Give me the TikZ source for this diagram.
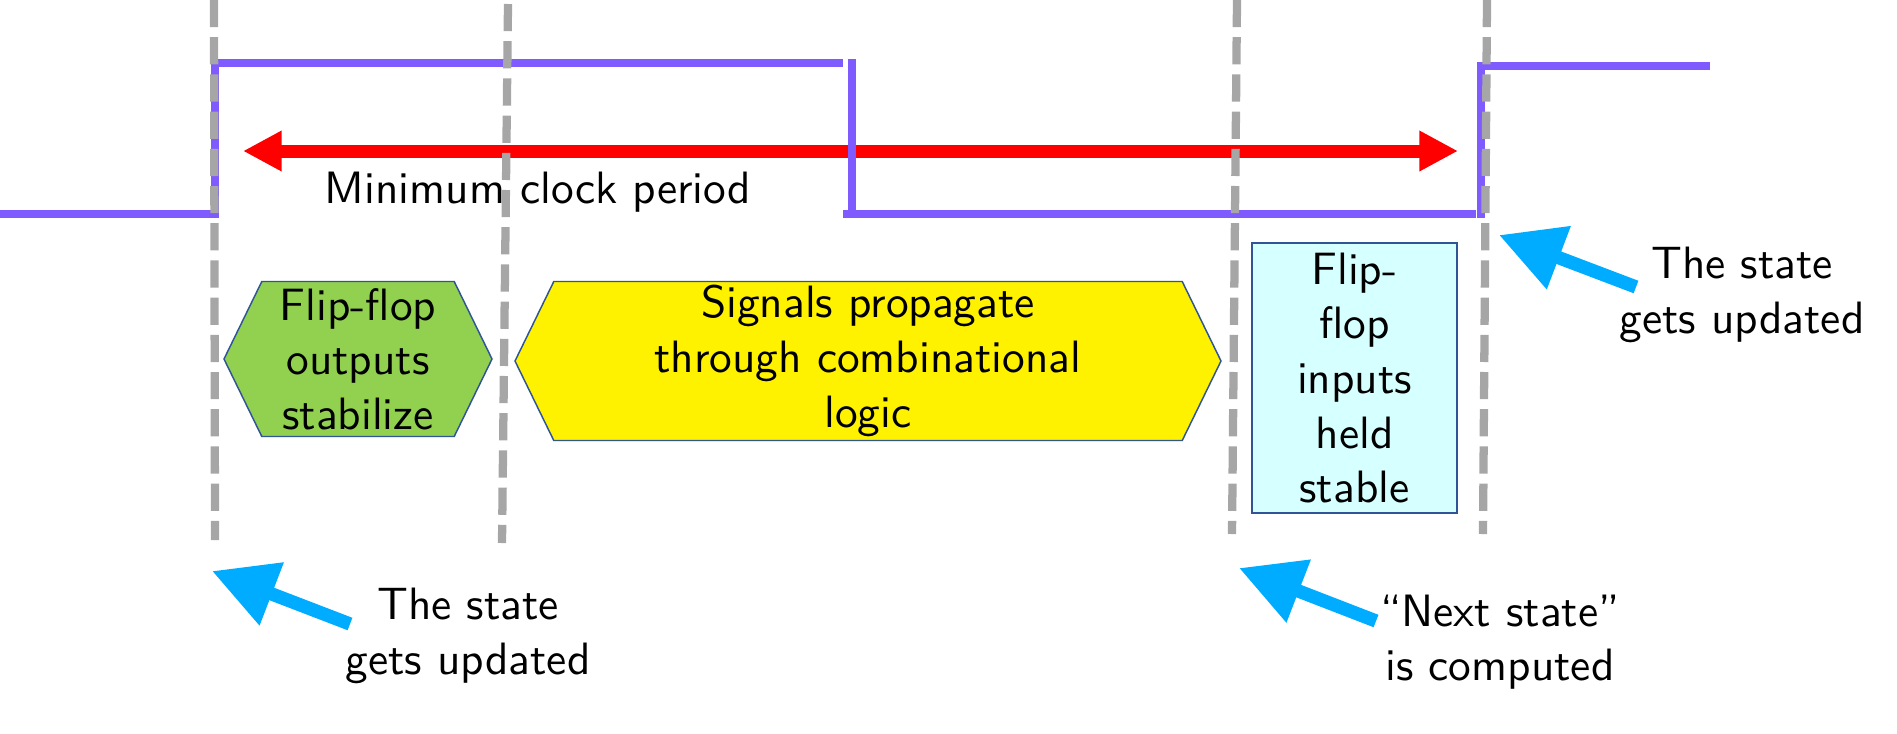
\documentclass[tikz,border=0pt]{standalone}
\usepackage{fontspec}
\usetikzlibrary{arrows.meta,shapes.symbols}

\newfontfamily\tensans{lmsans10-regular.otf}[Ligatures=TeX]

\definecolor{clk}{RGB}{127,90,255}
\definecolor{guide}{RGB}{166,166,166}
\definecolor{callout}{RGB}{0,172,255}
\definecolor{edge}{RGB}{47,85,151}
\definecolor{ffgreen}{RGB}{146,208,80}
\definecolor{ffcyan}{RGB}{214,255,255}

\tikzset{
  txt/.style={font=\tensans\fontsize{34}{41}\selectfont, align=center, inner sep=0pt},
  phase/.style={txt, draw=edge, line width=1.1pt, shape=signal, signal to=west and east, signal pointer angle=128},
  wave/.style={clk, line width=6pt},
  edgeline/.style={clk, line width=5.5pt},
  guideline/.style={guide, line width=6.2pt, dash pattern=on 20.4pt off 7.5pt},
  pointer/.style={callout, line width=10pt, -{Triangle[length=48pt,width=48pt]}},
}

\begin{document}
\begin{tikzpicture}[x=0.75pt,y=0.75pt,yscale=-1,xscale=1]
\useasboundingbox (0,0) rectangle (1897,733);

% period arrow
\draw [red, line width=9.75pt, {Triangle[length=29pt,width=28.5pt]}-{Triangle[length=29pt,width=28.5pt]}] (243,151) -- (1458,151);
\node [txt, anchor=base] (period) at (538,203) {Minimum clock period};

% clock part
\draw [wave] (0,214) -- (215,214);
\draw [edgeline] (215,218) -- (215,63);
\draw [wave] (217,63) -- (843,63);
\draw [edgeline] (852,59) -- (852,214);
\draw [wave] (843,214) -- (1476,214);
\draw [edgeline] (1481,218) -- (1481,62);
\draw [wave] (1477,66) -- (1710,66);

% phases
\node [phase, fill=ffgreen, minimum width=201pt, minimum height=116.25pt] (stab) at (358,359) {Flip-flop\\outputs\\stabilize};
\node [phase, fill=yellow, minimum width=529.5pt, minimum height=119.25pt] (comb) at (868,361) {Signals propagate\\through combinational\\logic};
\node [txt, draw=edge, line width=1.1pt, fill=ffcyan, minimum width=153.75pt, minimum height=202.5pt] (hold) at (1354.5,378) {Flip-\\flop\\inputs\\held\\stable};

% callouts
\node [txt] (upd1) at (468,636) {The state\\gets updated};
\node [txt] (next) at (1500,642) {“Next state”\\is computed};
\node [txt] (upd2) at (1742,295) {The state\\gets updated};
\coordinate (tail1) at (350,624);
\coordinate (tip1) at (212,571);
\coordinate (tail2) at (1376,621);
\coordinate (tip2) at (1239,568);
\coordinate (tail3) at (1636,287);
\coordinate (tip3) at (1499,235);
\draw [pointer] (tail1) -- (tip1);
\draw [pointer] (tail2) -- (tip2);
\draw [pointer] (tail3) -- (tip3);

% guide lines
\draw [guideline] (214,0) -- (215,540);
\draw [guideline] (508,4) -- (502,543);
\draw [guideline] (1237,0) -- (1232,534);
\draw [guideline] (1487,0) -- (1483,534);

\end{tikzpicture}
\end{document}
